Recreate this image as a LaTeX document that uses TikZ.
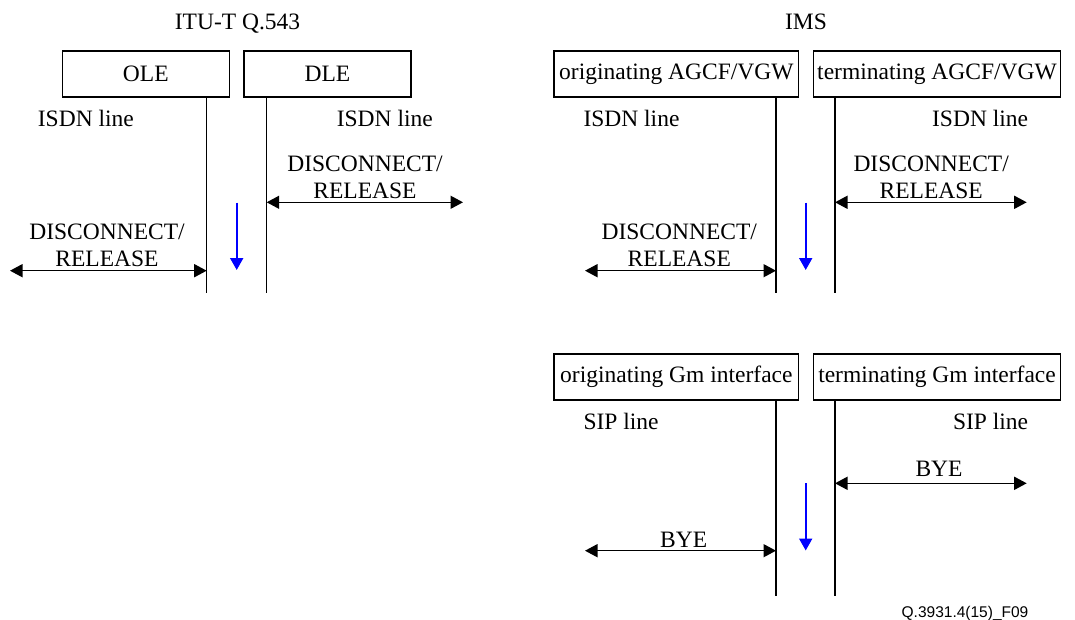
\documentclass[tikz,border=0pt]{standalone}
\usepackage{fontspec}
\setmainfont{Liberation Serif}
\setsansfont{Liberation Sans}
\usetikzlibrary{arrows.meta}
\begin{document}
\begin{tikzpicture}[x=1pt,y=-1pt,
  lbl/.style={font=\fontsize{23.5}{28}\selectfont, inner sep=0pt, anchor=base},
  ent/.style={draw, line width=1.4pt, minimum height=46pt, inner sep=0pt, font=\fontsize{23.5}{28}\selectfont},
  life/.style={line width=1.5pt},
  msg/.style={line width=1.5pt, {Triangle[length=12.5pt,width=13pt]}-{Triangle[length=12.5pt,width=13pt]}},
  dirarrow/.style={blue, line width=2pt, -{Triangle[length=12pt,width=13pt]}}]
\useasboundingbox (0,0) rectangle (1075,620);

% ---------- titles ----------
\node[lbl] (t1) at (237.5,30) {ITU-T Q.543};
\node[lbl] (t2) at (806,29.5) {IMS};

% ---------- ITU-T Q.543 ----------
\node[ent, minimum width=167pt] (ole) at (145.8,73.85) {OLE};
\node[ent, minimum width=167pt] (dle) at (327.5,73.85) {DLE};
\coordinate (oleB) at (206.7,293);
\coordinate (dleB) at (266.7,293);
\draw[life] (oleB |- ole.south) -- (oleB);
\draw[life] (dleB |- dle.south) -- (dleB);
\node[lbl, anchor=base west] (isdn1) at (37.7,126.7) {ISDN line};
\node[lbl, anchor=base east] (isdn2) at (433,126.7) {ISDN line};

\node[lbl] (d1a) at (365,171.7) {DISCONNECT/};
\node[lbl] (d1b) at (365,198.3) {RELEASE};
\coordinate (m1R) at (463,202.3);
\draw[msg] (m1R -| dleB) -- (m1R);

\node[lbl] (d2a) at (107,240) {DISCONNECT/};
\node[lbl] (d2b) at (107,266.7) {RELEASE};
\coordinate (m2L) at (10,270.7);
\draw[msg] (m2L) -- (m2L -| oleB);

\coordinate (b1s) at (236.7,202.7);
\coordinate (b1e) at (236.7,270);
\draw[dirarrow] (b1s) -- (b1e);

% ---------- IMS AGCF/VGW ----------
\node[ent, minimum width=244.7pt] (oag) at (676.35,73.85) {originating AGCF/VGW};
\node[ent, minimum width=247.4pt] (tag) at (937,73.85) {terminating AGCF/VGW};
\coordinate (oagB) at (776,293);
\coordinate (tagB) at (835,293);
\draw[life] (oagB |- oag.south) -- (oagB);
\draw[life] (tagB |- tag.south) -- (tagB);
\node[lbl, anchor=base west] (isdn3) at (583.3,126.7) {ISDN line};
\node[lbl, anchor=base east] (isdn4) at (1028.3,126.7) {ISDN line};

\node[lbl] (d3a) at (931.2,171.7) {DISCONNECT/};
\node[lbl] (d3b) at (931.2,198.7) {RELEASE};
\coordinate (m3R) at (1026.7,202.3);
\draw[msg] (m3R -| tagB) -- (m3R);

\node[lbl] (d4a) at (679.3,240) {DISCONNECT/};
\node[lbl] (d4b) at (679.3,266.7) {RELEASE};
\coordinate (m4L) at (585,270.7);
\draw[msg] (m4L) -- (m4L -| oagB);

\coordinate (b2s) at (805.7,202.7);
\coordinate (b2e) at (805.7,270);
\draw[dirarrow] (b2s) -- (b2e);

% ---------- IMS Gm ----------
\node[ent, minimum width=244.7pt] (ogm) at (676.35,377) {originating Gm interface};
\node[ent, minimum width=247.4pt] (tgm) at (937,377) {terminating Gm interface};
\coordinate (ogmB) at (776,596);
\coordinate (tgmB) at (835,596);
\draw[life] (ogmB |- ogm.south) -- (ogmB);
\draw[life] (tgmB |- tgm.south) -- (tgmB);
\node[lbl, anchor=base west] (sip1) at (583.3,429.3) {SIP line};
\node[lbl, anchor=base east] (sip2) at (1028.3,429.3) {SIP line};

\node[lbl] (bye1) at (939,476.7) {BYE};
\coordinate (m5R) at (1026.7,483.3);
\draw[msg] (m5R -| tgmB) -- (m5R);

\node[lbl] (bye2) at (683.7,547.3) {BYE};
\coordinate (m6L) at (585,550.7);
\draw[msg] (m6L) -- (m6L -| ogmB);

\coordinate (b3s) at (805.7,483.3);
\coordinate (b3e) at (805.7,550.5);
\draw[dirarrow] (b3s) -- (b3e);

% ---------- footer ----------
\node[anchor=base, inner sep=0pt, font=\sffamily\fontsize{15.5}{18}\selectfont] (foot) at (965,617) {Q.3931.4(15)\_F09};
\end{tikzpicture}
\end{document}
